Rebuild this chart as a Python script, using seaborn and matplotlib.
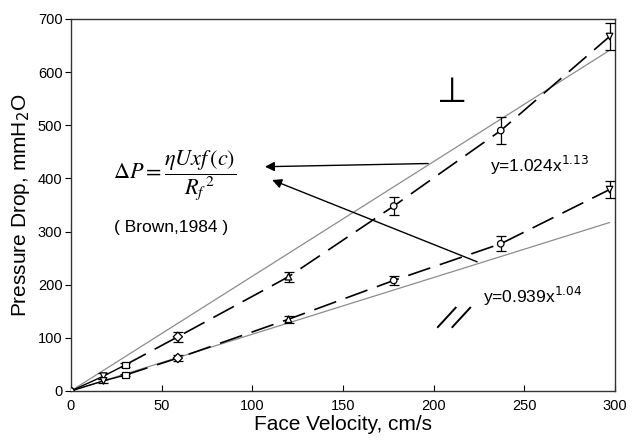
import numpy as np
import pandas as pd
import matplotlib
matplotlib.use("Agg")
import matplotlib.pyplot as plt
import seaborn as sns

# ---- data ----
velocity = [0, 18, 30, 59, 120, 178, 237, 297]
dp_upper = [0, 28, 49, 102, 215, 348, 490, 667]
err_upper = [0, 5, 3, 9, 9, 17, 25, 26]
dp_lower = [0, 19, 30, 62, 135, 208, 277, 379]
err_lower = [0, 4, 2, 5, 7, 8, 14, 16]
point_markers = ['o', 'v', 's', 'D', '^', 'o', 'o', 'v']

brown_x = [0, 297]
brown_upper = [0, 641]
brown_lower = [0, 317]

fit_upper_label = r'y=1.024x$^{1.13}$'
fit_lower_label = r'y=0.939x$^{1.04}$'
formula = r'$\Delta P=\dfrac{\eta Uxf\,(c)}{{R_f}^{\,2}}$'
citation = '( Brown,1984 )'
xticks = [0, 50, 100, 150, 200, 250, 300]
yticks = [0, 100, 200, 300, 400, 500, 600, 700]

sns.set_style("ticks")
plt.rcParams['font.family'] = ['Liberation Sans', 'DejaVu Sans']
for k in ('text.color', 'axes.labelcolor', 'xtick.color', 'ytick.color'):
    plt.rcParams[k] = 'black'

fig = plt.figure(figsize=(6.44, 4.41), dpi=100)
ax = fig.add_axes([0.110, 0.1134, 0.845, 0.8436])

df = pd.DataFrame({
    'v': velocity * 2,
    'dp': dp_upper + dp_lower,
    'err': err_upper + err_lower,
    'series': ['upper'] * len(velocity) + ['lower'] * len(velocity),
    'mk': point_markers * 2,
})

# Brown linear model lines (gray)
for yb in (brown_upper, brown_lower):
    sns.lineplot(x=brown_x, y=yb, ax=ax, color='#8c8c8c', lw=0.9, zorder=2)

# solid connections at low velocities, dashed fits thereafter
for name in ('upper', 'lower'):
    d = df[df.series == name].reset_index(drop=True)
    low = d.iloc[:3]
    high = d.iloc[2:]
    sns.lineplot(data=low, x='v', y='dp', ax=ax, color='black', lw=1.0,
                 sort=False, zorder=3)
    sns.lineplot(data=high, x='v', y='dp', ax=ax, color='black', lw=1.2,
                 sort=False, zorder=3, dashes=False)
    ax.lines[-1].set_dashes((14, 6))
    ax.lines[-1].set_dash_capstyle('butt')
    ax.errorbar(d['v'][1:], d['dp'][1:], yerr=d['err'][1:], fmt='none',
                ecolor='black', elinewidth=0.9, capsize=3.5, capthick=0.9,
                zorder=4)

sns.scatterplot(data=df, x='v', y='dp', style='mk',
                markers={m: m for m in set(point_markers)},
                color='white', edgecolor='black', linewidth=0.9, s=22,
                ax=ax, zorder=5, legend=False)

# annotations
ax.text(23, 405, formula, fontsize=16, math_fontfamily='stix',
        va='center', ha='left')
ax.text(24, 307, citation, fontsize=12.5, va='center', ha='left')
ax.text(231, 424, fit_upper_label, fontsize=12.5, va='center', ha='left')
ax.text(227, 177, fit_lower_label, fontsize=12.5, va='center', ha='left')
ax.text(210, 563, '⊥', fontsize=25, va='center', ha='center',
        family='DejaVu Sans')

ax.annotate('', xy=(107, 422), xytext=(197, 428),
            arrowprops=dict(arrowstyle='-|>', color='black', lw=1.0,
                            mutation_scale=14, shrinkA=0, shrinkB=0))
ax.annotate('', xy=(111, 397), xytext=(224, 243),
            arrowprops=dict(arrowstyle='-|>', color='black', lw=1.0,
                            mutation_scale=14, shrinkA=0, shrinkB=0))

# "//" mark
for dx in (0, 8):
    ax.plot([202 + dx, 212.5 + dx], [119, 158], color='black', lw=1.4,
            solid_capstyle='butt')

ax.set_xlim(0, 300)
ax.set_ylim(0, 700)
ax.set_xticks(xticks)
ax.set_yticks(yticks)
ax.tick_params(axis='x', direction='in', length=4, labelsize=10.5, pad=6)
ax.tick_params(axis='y', direction='out', length=4, labelsize=10.5, pad=2)
for s in ax.spines.values():
    s.set_visible(True)
    s.set_color('#333333')
    s.set_linewidth(1.0)
ax.set_xlabel('Face Velocity, cm/s', fontsize=15, labelpad=1)
ax.set_ylabel(r'Pressure Drop, mmH$_2$O', fontsize=15, labelpad=4)

fig.savefig('out.png', dpi=100)
